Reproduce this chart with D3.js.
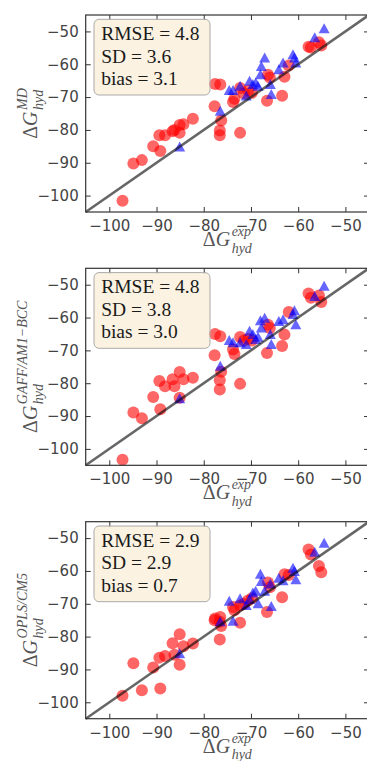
<!DOCTYPE html>
<html>
<head>
<meta charset="utf-8">
<script src="https://cdn.jsdelivr.net/npm/d3@7"></script>
<style>
  body { margin: 0; background: #fff; }
  .tick text { font-family: "DejaVu Sans", sans-serif; font-size: 15px; fill: #444; }
  .tick line { stroke: #333; }
</style>
</head>
<body>
<script>
// experimental values (x), shared by all three panels
var expRed = [-97.2, -94.9, -93.1, -90.7, -89.2, -89.4, -88.2, -86.6, -86.2, -85.1, -84.3, -82.3, -85.1,
              -77.6, -76.5, -77.7, -76.3, -76.6, -76.6, -72.3, -73.8, -73.5, -72.3, -71.5, -70.6, -69.8,
              -66.4, -66.0, -66.6, -63.4, -62.9, -62.0, -57.8, -57.3, -55.6, -55.1];
var mdRed   = [-101.6, -90.2, -89.2, -85.0, -86.4, -81.6, -81.6, -80.4, -80.0, -80.9, -78.3, -76.6, -78.5,
              -66.0, -66.2, -72.8, -77.1, -80.2, -81.6, -80.9, -71.5, -70.5, -67.2, -68.8, -68.0, -68.7,
              -63.2, -64.0, -71.1, -69.6, -63.8, -60.4, -54.7, -54.9, -53.3, -54.3];
var gaffRed = [-103.3, -88.9, -90.7, -84.2, -87.9, -79.3, -80.9, -78.8, -80.9, -76.6, -78.8, -78.3, -84.4,
              -65.0, -65.7, -71.5, -76.5, -79.1, -81.9, -80.2, -69.7, -71.1, -65.9, -67.0, -66.5, -67.0,
              -62.2, -63.2, -70.8, -68.7, -65.2, -58.3, -52.7, -54.0, -53.3, -55.3];
var oplsRed = [-98.0, -88.1, -96.3, -89.4, -95.8, -86.4, -85.9, -82.0, -85.5, -79.3, -82.9, -82.1, -88.6,
              -74.5, -74.0, -75.0, -76.8, -80.9, -75.5, -75.8, -71.0, -72.0, -70.5, -70.0, -69.0, -68.3,
              -63.5, -65.0, -72.5, -68.0, -61.0, -61.2, -53.5, -55.0, -58.5, -60.4];

var expBlue  = [-85.1, -76.5, -74.6, -73.8, -72.3, -70.3, -69.6, -69.0, -68.0, -67.8, -67.1,
                -68.5, -65.7, -64.1, -63.2, -61.1, -60.8, -60.5, -56.5, -54.5, -71.0, -65.9];
var mdBlue   = [-85.2, -74.3, -68.0, -68.0, -66.7, -65.2, -66.2, -65.7, -63.2, -60.7, -58.1,
                -66.7, -69.2, -61.7, -59.6, -57.1, -58.1, -59.6, -51.9, -49.2, -69.7, -66.2];
var gaffBlue = [-84.7, -74.8, -67.0, -67.7, -67.7, -64.2, -65.2, -66.7, -61.0, -63.2, -60.2,
                -66.0, -68.2, -61.2, -60.7, -59.1, -57.9, -62.2, -53.6, -50.5, -68.2, -65.2];
var oplsBlue = [-85.2, -75.5, -69.2, -75.3, -68.5, -68.7, -66.7, -66.2, -61.0, -63.2, -66.2,
                -70.0, -70.8, -62.2, -63.0, -59.2, -60.2, -62.7, -54.3, -51.6, -70.5, -64.0];

var statNames = ["RMSE", "SD", "bias"];
var mdStats   = ["4.8", "3.6", "3.1"];
var gaffStats = ["4.8", "3.8", "3.0"];
var oplsStats = ["2.9", "2.9", "0.7"];

var ticks = [-100, -90, -80, -70, -60, -50];
var domain = [-105, -45];

var panels = [
  {top: 15,    sup: "MD",              red: mdRed,   blue: mdBlue,   stats: mdStats},
  {top: 268.3, sup: "GAFF/AM1\u2212BCC", red: gaffRed, blue: gaffBlue, stats: gaffStats},
  {top: 521.7, sup: "OPLS/CM5",        red: oplsRed, blue: oplsBlue, stats: oplsStats}
];

var left = 85.7, width = 283.3, height = 197;
var serif = "'Liberation Serif', 'DejaVu Serif', serif";

var svg = d3.select("body").append("svg")
    .attr("width", 367)
    .attr("height", 761);

var x = d3.scaleLinear().domain(domain).range([0, width]);
var y = d3.scaleLinear().domain(domain).range([height, 0]);

// ΔG with stacked sub/superscript, centred on 0
function mathLabel(g, sup) {
  var t = g.append("g").attr("fill", "#555").style("font-family", serif);
  var d = t.append("text").attr("font-size", 20).text("\u0394");
  var dw = d.node().getComputedTextLength();
  var G = t.append("text").attr("x", dw).attr("font-size", 20).attr("font-style", "italic").text("G");
  var gw = dw + G.node().getComputedTextLength() + 1.5;
  var s1 = t.append("text").attr("x", gw).attr("y", -10).attr("font-size", 14)
      .attr("font-style", "italic").text(sup);
  var s2 = t.append("text").attr("x", gw).attr("y", 6.5).attr("font-size", 14)
      .attr("font-style", "italic").text("hyd");
  var total = gw + Math.max(s1.node().getComputedTextLength(), s2.node().getComputedTextLength());
  t.attr("transform", "translate(" + (-total / 2) + ",0)");
}

panels.forEach(function(p) {
  var g = svg.append("g").attr("transform", "translate(" + left + "," + p.top + ")");

  var xb = g.append("g").attr("transform", "translate(0," + height + ")")
      .call(d3.axisBottom(x).tickValues(ticks).tickSize(-5).tickPadding(8.5));
  var xt = g.append("g").call(d3.axisTop(x).tickValues(ticks).tickSize(-5).tickFormat(""));
  var yl = g.append("g").call(d3.axisLeft(y).tickValues(ticks).tickSize(-5).tickPadding(7));
  var yr = g.append("g").attr("transform", "translate(" + width + ",0)")
      .call(d3.axisRight(y).tickValues(ticks).tickSize(-5).tickFormat(""));
  [xb, xt, yl, yr].forEach(function(a) { a.select(".domain").remove(); });

  var red = p.red.map(function(v, i) { return [expRed[i], v]; });
  var blue = p.blue.map(function(v, i) { return [expBlue[i], v]; });

  g.selectAll("circle").data(red).enter().append("circle")
      .attr("cx", function(d) { return x(d[0]); })
      .attr("cy", function(d) { return y(d[1]); })
      .attr("r", 6)
      .attr("fill", "red")
      .attr("fill-opacity", 0.6);

  g.selectAll("path.tri").data(blue).enter().append("path")
      .attr("class", "tri")
      .attr("d", "M0,-5.5L5.5,4.5L-5.5,4.5Z")
      .attr("transform", function(d) { return "translate(" + x(d[0]) + "," + y(d[1]) + ")"; })
      .attr("fill", "blue")
      .attr("fill-opacity", 0.6);

  g.append("line")
      .attr("x1", x(domain[0])).attr("y1", y(domain[0]))
      .attr("x2", x(domain[1])).attr("y2", y(domain[1]))
      .attr("stroke", "#000").attr("stroke-opacity", 0.6).attr("stroke-width", 2.6);

  g.append("rect")
      .attr("width", width).attr("height", height)
      .attr("fill", "none").attr("stroke", "#333").attr("stroke-width", 1.2);

  // stats box
  g.append("rect")
      .attr("x", 8.3).attr("y", 4.3).attr("width", 116).attr("height", 75.7)
      .attr("rx", 5)
      .attr("fill", "#f5deb3").attr("fill-opacity", 0.38)
      .attr("stroke", "#aaa").attr("stroke-width", 1);
  statNames.forEach(function(n, i) {
    g.append("text")
        .attr("x", 15.5).attr("y", 25 + i * 22.6)
        .style("font-family", serif).attr("font-size", 19.5).attr("fill", "#1a1a1a")
        .text(n + " = " + p.stats[i]);
  });

  mathLabel(g.append("g").attr("transform", "translate(" + width / 2 + "," + (height + 34) + ")"), "exp");
  mathLabel(g.append("g").attr("transform", "translate(" + (37 - left) + "," + height / 2 + ") rotate(-90)"), p.sup);
});
</script>
</body>
</html>
